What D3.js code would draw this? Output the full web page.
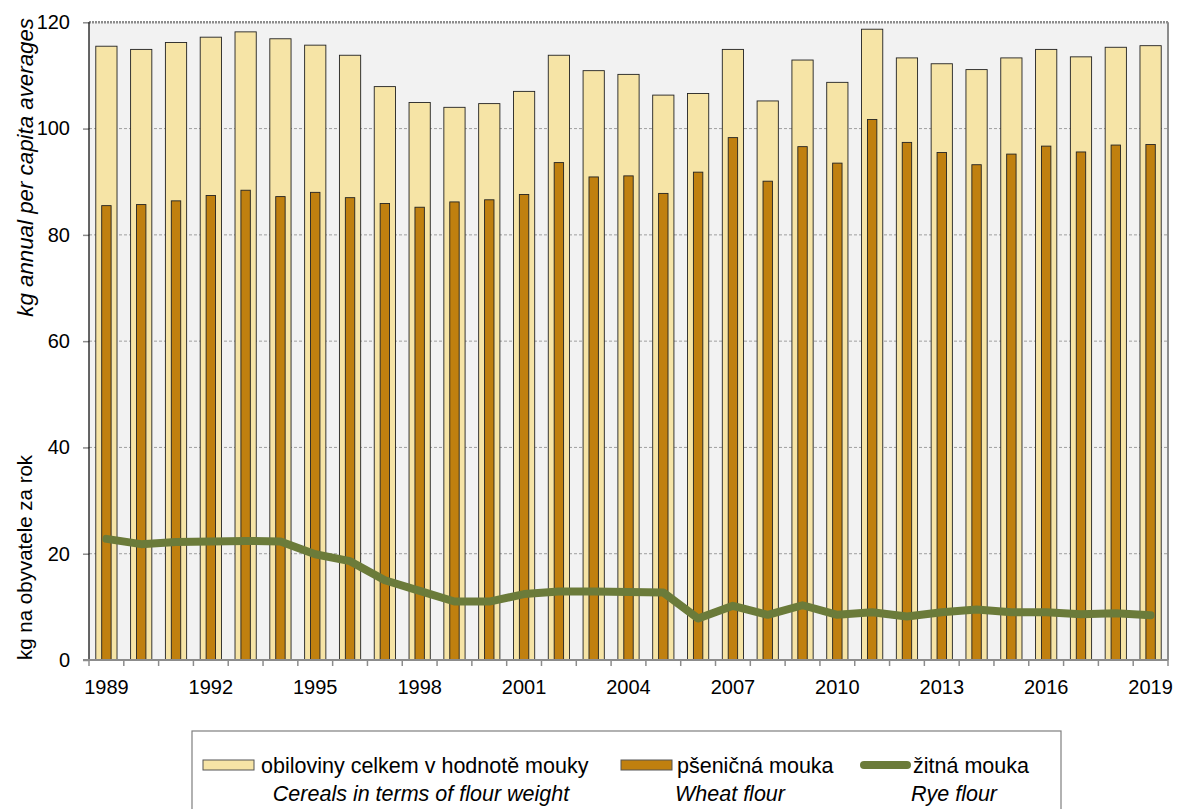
<!DOCTYPE html>
<html><head><meta charset="utf-8">
<script src="https://cdn.jsdelivr.net/npm/d3@7"></script>
<style>
body{margin:0;background:#fff;}
text{font-family:"Liberation Sans",Arial,sans-serif;}
</style></head>
<body><svg id="c" width="1177" height="809"></svg>
<script>
const years = d3.range(1989, 2020).map(String);
const totalCereals = [115.5,114.9,116.2,117.2,118.2,116.9,115.7,113.8,107.9,104.9,104.0,104.7,107.0,113.8,110.9,110.2,106.3,106.6,114.9,105.2,112.9,108.7,118.7,113.3,112.2,111.1,113.3,114.9,113.5,115.3,115.6];
const wheatFlour = [85.5,85.7,86.4,87.4,88.4,87.2,88.0,87.0,85.9,85.2,86.2,86.6,87.6,93.6,90.9,91.1,87.8,91.8,98.3,90.1,96.6,93.5,101.7,97.4,95.5,93.2,95.2,96.7,95.6,96.9,97.0];
const ryeFlour = [22.8,21.8,22.2,22.3,22.4,22.3,19.9,18.6,15.0,13.0,11.0,11.0,12.4,12.9,12.9,12.8,12.7,7.8,10.2,8.5,10.3,8.5,9.0,8.2,9.0,9.5,9.0,9.0,8.6,8.8,8.4];
const yTicks = [0,20,40,60,80,100,120];
const xLabelYears = ["1989","1992","1995","1998","2001","2004","2007","2010","2013","2016","2019"];
const legendCz = ["obiloviny celkem v hodnotě mouky","pšeničná mouka","žitná mouka"];
const legendEn = ["Cereals in terms of flour weight","Wheat flour","Rye flour"];
const axisTitleCz = "kg na obyvatele za rok";
const axisTitleEn = "kg annual per capita averages";

const C = {light:"#F6E4A6", wheat:"#C0800F", rye:"#6B7B3A", bg:"#F2F2F2"};
const FS = 20, LFS = 21.5;
const svg = d3.select("#c");
const L = 89, R = 1168, T = 22.3, B = 660;

const x = d3.scaleBand().domain(years).range([L, R]).padding(0);
const y = d3.scaleLinear().domain([0,120]).range([B, T]);

svg.append("rect").attr("x",L).attr("y",T).attr("width",R-L).attr("height",B-T).attr("fill",C.bg);

// gridlines
svg.append("g").selectAll("line").data(yTicks.filter(d=>d>0)).join("line")
  .attr("x1",L).attr("x2",R).attr("y1",d=>y(d)).attr("y2",d=>y(d))
  .attr("stroke",d=>d===120?"#8c8c8c":"#8a8a8a")
  .attr("stroke-width",d=>d===120?2.5:0.8)
  .attr("stroke-dasharray",d=>d===120?"2,1":"3,2");

// right border
svg.append("line").attr("x1",R).attr("x2",R).attr("y1",T).attr("y2",B).attr("stroke","#8c8c8c").attr("stroke-width",2);

const bw = x.bandwidth();
// total bars
svg.append("g").selectAll("rect").data(years).join("rect")
  .attr("x",(d)=>x(d)+bw*0.5-bw*0.305)
  .attr("width",bw*0.61)
  .attr("y",(d,i)=>y(totalCereals[i]))
  .attr("height",(d,i)=>B-y(totalCereals[i]))
  .attr("fill",C.light).attr("stroke","#222").attr("stroke-width",0.9);
// wheat bars
svg.append("g").selectAll("rect").data(years).join("rect")
  .attr("x",(d)=>x(d)+bw*0.5-bw*0.135)
  .attr("width",bw*0.27)
  .attr("y",(d,i)=>y(wheatFlour[i]))
  .attr("height",(d,i)=>B-y(wheatFlour[i]))
  .attr("fill",C.wheat).attr("stroke","#222").attr("stroke-width",0.9);

// rye line
const line = d3.line().x((d,i)=>x(years[i])+bw/2).y(d=>y(d));
svg.append("path").datum(ryeFlour).attr("d",line).attr("fill","none")
  .attr("stroke",C.rye).attr("stroke-width",8).attr("stroke-linejoin","round").attr("stroke-linecap","round");

// y axis
const yAxis = svg.append("g").attr("transform",`translate(${L},0)`)
  .call(d3.axisLeft(y).tickValues(yTicks).tickSize(6).tickPadding(13));
yAxis.select(".domain").remove();
yAxis.selectAll(".tick line").attr("stroke","#8c8c8c").attr("stroke-width",1.5);
yAxis.selectAll(".tick text").attr("font-size",FS).attr("fill","#000").attr("font-family","Liberation Sans, Arial, sans-serif");
svg.append("line").attr("x1",L).attr("x2",L).attr("y1",T).attr("y2",B).attr("stroke","#000").attr("stroke-width",1.2);

// x axis
const xAxis = svg.append("g").attr("transform",`translate(0,${B})`)
  .call(d3.axisBottom(x).tickValues(xLabelYears).tickSize(0).tickPadding(20));
xAxis.select(".domain").remove();
xAxis.selectAll(".tick text").attr("font-size",FS).attr("fill","#000").attr("font-family","Liberation Sans, Arial, sans-serif");
// boundary ticks
const bounds = years.map(d=>x(d)).concat([R]);
svg.append("g").selectAll("line").data(bounds).join("line")
  .attr("x1",d=>d).attr("x2",d=>d).attr("y1",B).attr("y2",B+6)
  .attr("stroke","#8c8c8c").attr("stroke-width",1.5);
svg.append("line").attr("x1",L-6).attr("x2",R).attr("y1",B).attr("y2",B).attr("stroke","#8c8c8c").attr("stroke-width",2);

// axis titles
svg.append("text").attr("transform","translate(32,660) rotate(-90)").attr("text-anchor","start")
  .attr("font-size",20.5).text(axisTitleCz);
svg.append("text").attr("transform","translate(33,18) rotate(-90)").attr("text-anchor","end")
  .attr("font-size",22.3).attr("font-style","italic").text(axisTitleEn);

// legend
const lg = svg.append("g");
lg.append("rect").attr("x",192).attr("y",731).attr("width",869).attr("height",90)
  .attr("fill","#fff").attr("stroke","#7f7f7f").attr("stroke-width",1.2);
const swX = [203, 621, 860];
const txX = [261, 677, 913];
const enX = [421, 730, 954];
lg.append("rect").attr("x",swX[0]).attr("y",760).attr("width",51).attr("height",10).attr("fill",C.light).attr("stroke","#555").attr("stroke-width",1);
lg.append("rect").attr("x",swX[1]).attr("y",760).attr("width",51).attr("height",10).attr("fill",C.wheat).attr("stroke","#555").attr("stroke-width",1);
lg.append("line").attr("x1",swX[2]+4).attr("x2",swX[2]+47).attr("y1",765).attr("y2",765).attr("stroke",C.rye).attr("stroke-width",8).attr("stroke-linecap","round");
lg.selectAll("text.cz").data(legendCz).join("text").attr("class","cz")
  .attr("x",(d,i)=>txX[i]).attr("y",772.5).attr("font-size",LFS).text(d=>d);
lg.selectAll("text.en").data(legendEn).join("text").attr("class","en")
  .attr("x",(d,i)=>enX[i]).attr("y",801).attr("font-size",LFS).attr("font-style","italic").attr("text-anchor","middle").text(d=>d);
</script></body></html>
